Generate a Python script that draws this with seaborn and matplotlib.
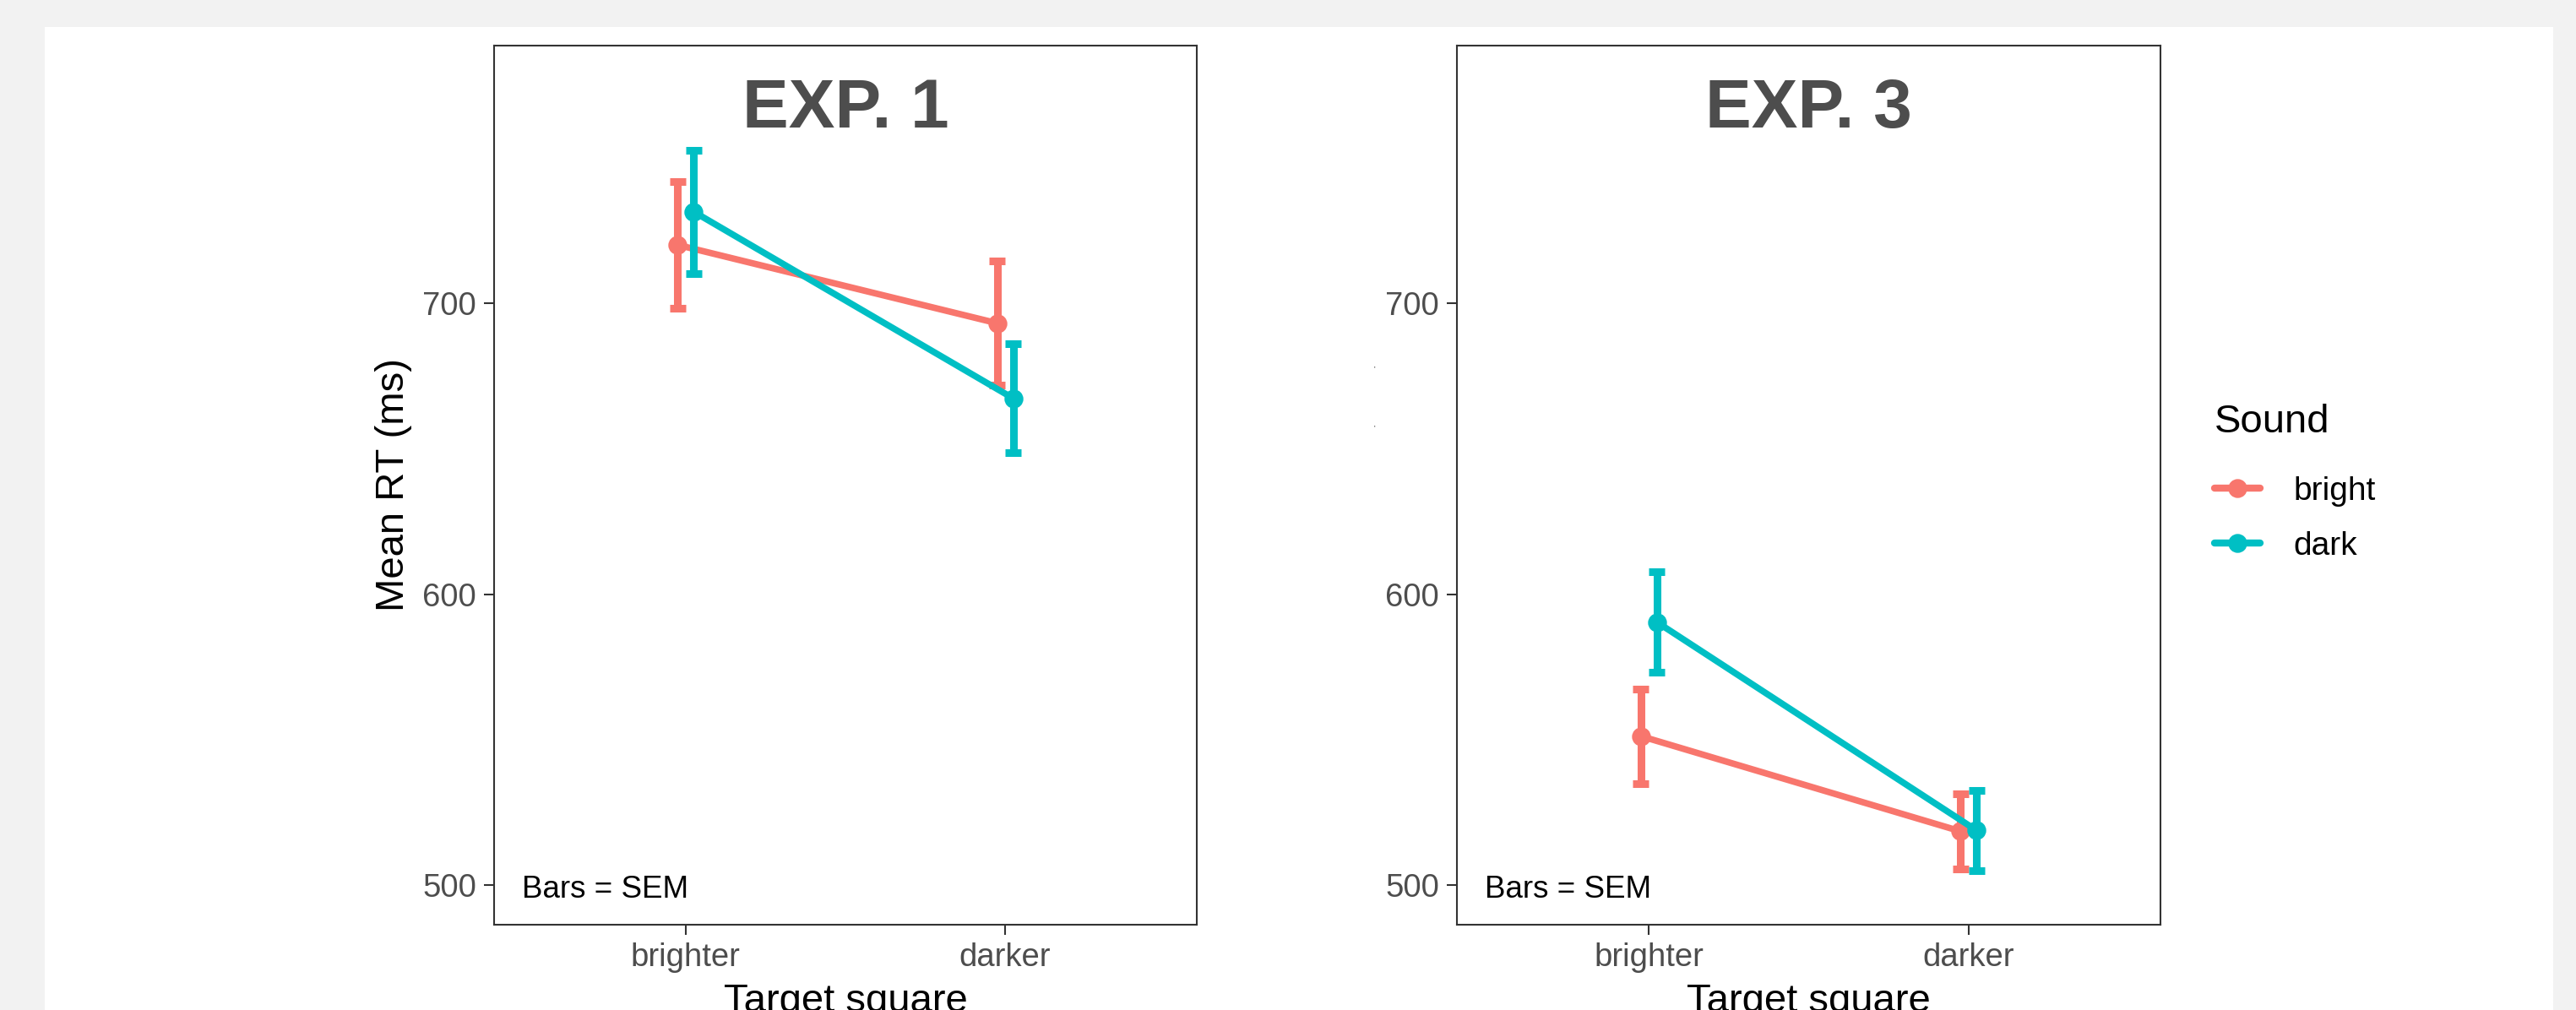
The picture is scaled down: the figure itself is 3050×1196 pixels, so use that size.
import pandas as pd
import seaborn as sns
import matplotlib.pyplot as plt
from matplotlib.patches import Rectangle

# Werte (Mittelwert und SEM in ms)
targets = ["brighter", "darker"]
sounds = ["bright", "dark"]
exp1_bright_mean = [720.0, 693.1]
exp1_bright_sem = [21.8, 21.3]
exp1_dark_mean = [731.4, 667.3]
exp1_dark_sem = [21.2, 18.8]
exp3_bright_mean = [551.2, 518.5]
exp3_bright_sem = [16.3, 13.0]
exp3_dark_mean = [590.4, 518.8]
exp3_dark_sem = [17.2, 13.7]
panel_titles = ["EXP. 1", "EXP. 3"]
y_ticks = [500, 600, 700]

colors = {"bright": "#F8766D", "dark": "#00BFC4"}


# Tabelle bauen: pro Zelle die Grenzen mean-sem / mean+sem,
# Mittelwert = Schaetzer, Spannweite = Fehlerbalken
def make_table(bright_mean, bright_sem, dark_mean, dark_sem):
    rows = []
    for sound, means, sems in [("bright", bright_mean, bright_sem), ("dark", dark_mean, dark_sem)]:
        for t, m, s in zip(targets, means, sems):
            rows.append({"Target": t, "Sound": sound, "RT": m - s})
            rows.append({"Target": t, "Sound": sound, "RT": m + s})
    return pd.DataFrame(rows)


df1 = make_table(exp1_bright_mean, exp1_bright_sem, exp1_dark_mean, exp1_dark_sem)
df3 = make_table(exp3_bright_mean, exp3_bright_sem, exp3_dark_mean, exp3_dark_sem)

sns.set_theme(style="ticks")
plt.rcParams["font.family"] = ["Liberation Sans", "DejaVu Sans"]
plt.rcParams["text.color"] = "black"

fig = plt.figure(figsize=(30.5, 11.96), dpi=100, facecolor="#f2f2f2")
fig.patches.append(Rectangle((53 / 3050, 0), (3023 - 53) / 3050, (1196 - 32) / 1196,
                             transform=fig.transFigure, facecolor="white", edgecolor="none", zorder=-10))

ax1 = fig.add_axes([585 / 3050, 101 / 1196, 832 / 3050, 1041 / 1196])
ax2 = fig.add_axes([1725 / 3050, 101 / 1196, 833 / 3050, 1041 / 1196])

for ax, data, title in [(ax1, df1, panel_titles[0]), (ax2, df3, panel_titles[1])]:
    sns.pointplot(data=data, x="Target", y="RT", hue="Sound", order=targets, hue_order=sounds,
                  palette=colors, estimator="mean", errorbar=lambda v: (v.min(), v.max()),
                  dodge=0.05, capsize=0.05, markers="o", markersize=12, linewidth=5.5,
                  err_kws={"linewidth": 6.5, "solid_capstyle": "butt"}, ax=ax)
    ax.set_xlim(-0.6, 1.6)
    ax.set_ylim(486.4, 788.5)
    ax.set_yticks(y_ticks)
    ax.set_facecolor("white")
    for sp in ax.spines.values():
        sp.set_visible(True)
        sp.set_color("#333333")
        sp.set_linewidth(1.5)
    ax.tick_params(axis="both", length=8.5, width=1.5, color="#333333", labelcolor="#4d4d4d",
                   labelsize=27.5, pad=6.5)
    ax.text(0.5, 0.9068, title, transform=ax.transAxes, ha="center", va="baseline",
            fontsize=59, fontweight="bold", color="#4d4d4d")
    ax.text(0.0397, 0.0307, "Bars = SEM", transform=ax.transAxes, ha="left", va="baseline",
            fontsize=26.5, color="black")
    ax.set_xlabel("Target square", fontsize=34, color="black")
    ax.xaxis.set_label_coords(0.5, -0.066)

ax1.set_ylabel("Mean RT (ms)", fontsize=34, color="black")
ax1.yaxis.set_label_coords(-0.117, 0.5)
ax2.set_ylabel("")

handles, labels = ax2.get_legend_handles_labels()
ax1.get_legend().remove()
ax2.get_legend().remove()
leg = fig.legend(handles, labels, title="Sound", loc="upper left",
                 bbox_to_anchor=(2622 / 3050, 1 - 478 / 1196), frameon=False,
                 fontsize=28, title_fontsize=34, borderpad=0, borderaxespad=0,
                 handlelength=1.4, handletextpad=1.0, labelspacing=0.75, alignment="left")
leg._legend_box.sep = 30
for h in leg.legend_handles:
    h.set_linewidth(6)
    h.set_markersize(12)

# kleine Punkte links vom zweiten Panel (Reste der leeren Achsenbeschriftung)
fig.text(1627 / 3050, 1 - 437 / 1196, "'", fontsize=6, color="black", ha="center", va="center")
fig.text(1627 / 3050, 1 - 507 / 1196, "'", fontsize=6, color="black", ha="center", va="center")

fig.savefig("out.png", dpi=100, facecolor=fig.get_facecolor())
